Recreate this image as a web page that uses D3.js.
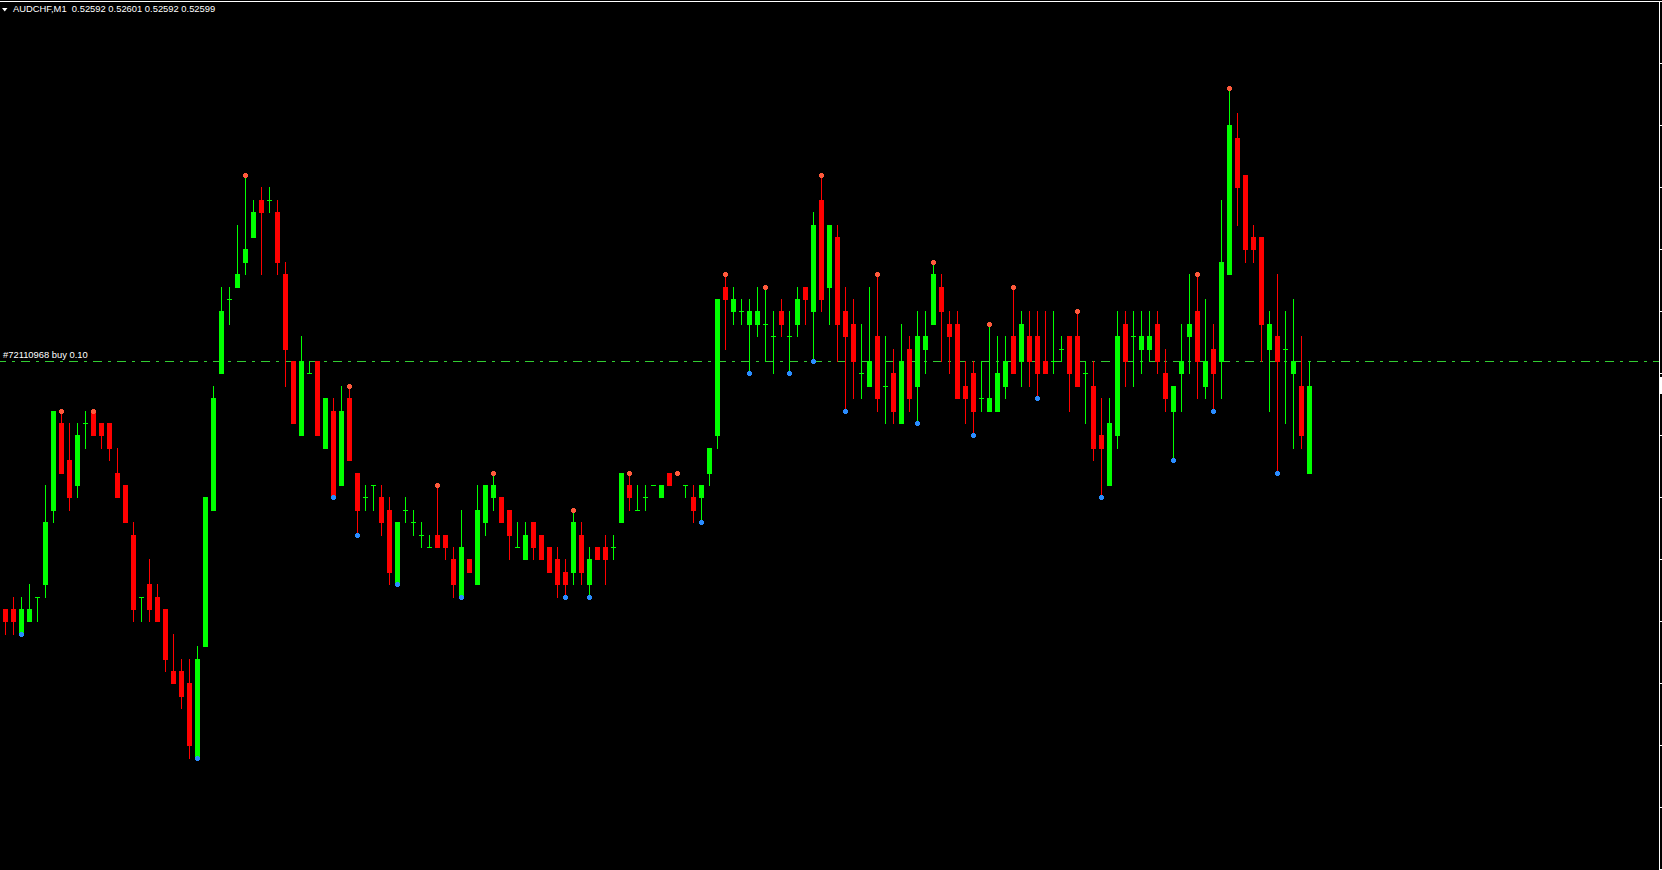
<!DOCTYPE html>
<html>
<head>
<meta charset="utf-8">
<script src="https://cdn.jsdelivr.net/npm/d3@7"></script>
<style>
  html, body { margin: 0; padding: 0; background: #000; overflow: hidden; }
</style>
</head>
<body>
<div id="chart"></div>
<script>
// AUDCHF M1 bars, left to right
const opens = [
  0.52581,0.52581,0.52579,0.52580,0.52582,0.52583,0.52589,0.52596,0.52593,0.52591,
  0.52596,0.52597,0.52596,0.52596,0.52592,0.52591,0.52587,0.52582,0.52583,0.52582,
  0.52581,0.52576,0.52576,0.52575,0.52569,0.52578,0.52589,0.52600,0.52606,0.52607,
  0.52609,0.52611,0.52614,0.52614,0.52613,0.52608,0.52601,0.52595,0.52600,0.52601,
  0.52594,0.52597,0.52591,0.52598,0.52592,0.52590,0.52591,0.52590,0.52589,0.52583,
  0.52589,0.52588,0.52587,0.52586,0.52587,0.52587,0.52585,0.52582,0.52585,0.52583,
  0.52588,0.52590,0.52590,0.52589,0.52586,0.52585,0.52588,0.52587,0.52586,0.52585,
  0.52584,0.52584,0.52587,0.52583,0.52586,0.52586,0.52586,0.52588,0.52591,0.52589,
  0.52590,0.52591,0.52590,0.52592,0.52592,0.52591,0.52590,0.52590,0.52592,0.52595,
  0.52607,0.52605,0.52605,0.52604,0.52604,0.52604,0.52603,0.52605,0.52603,0.52604,
  0.52607,0.52605,0.52614,0.52607,0.52611,0.52605,0.52604,0.52600,0.52599,0.52603,
  0.52599,0.52600,0.52596,0.52602,0.52599,0.52602,0.52604,0.52607,0.52604,0.52604,
  0.52599,0.52600,0.52598,0.52597,0.52597,0.52599,0.52603,0.52601,0.52603,0.52603,
  0.52601,0.52601,0.52602,0.52603,0.52603,0.52600,0.52599,0.52595,0.52591,0.52595,
  0.52604,0.52603,0.52602,0.52602,0.52604,0.52600,0.52597,0.52600,0.52603,0.52605,
  0.52599,0.52602,0.52601,0.52608,0.52619,0.52616,0.52611,0.52611,0.52602,0.52603,
  0.52602,0.52600,0.52599,0.52592
];
const highs = [
  0.52581,0.52582,0.52582,0.52583,0.52582,0.52591,0.52597,0.52597,0.52596,0.52596,
  0.52597,0.52597,0.52596,0.52596,0.52594,0.52591,0.52588,0.52582,0.52585,0.52583,
  0.52581,0.52579,0.52577,0.52577,0.52578,0.52590,0.52599,0.52607,0.52607,0.52612,
  0.52616,0.52614,0.52615,0.52615,0.52614,0.52609,0.52601,0.52603,0.52601,0.52601,
  0.52598,0.52598,0.52599,0.52599,0.52592,0.52591,0.52591,0.52591,0.52590,0.52588,
  0.52590,0.52589,0.52588,0.52587,0.52591,0.52587,0.52586,0.52589,0.52585,0.52591,
  0.52591,0.52592,0.52590,0.52589,0.52588,0.52588,0.52588,0.52587,0.52586,0.52586,
  0.52585,0.52589,0.52588,0.52586,0.52586,0.52587,0.52587,0.52592,0.52592,0.52591,
  0.52591,0.52591,0.52591,0.52592,0.52592,0.52591,0.52591,0.52591,0.52594,0.52606,
  0.52608,0.52607,0.52606,0.52606,0.52607,0.52607,0.52605,0.52606,0.52605,0.52607,
  0.52607,0.52613,0.52616,0.52612,0.52612,0.52607,0.52606,0.52604,0.52607,0.52608,
  0.52603,0.52602,0.52604,0.52603,0.52605,0.52605,0.52609,0.52608,0.52605,0.52605,
  0.52601,0.52601,0.52601,0.52604,0.52603,0.52603,0.52607,0.52605,0.52605,0.52605,
  0.52605,0.52605,0.52603,0.52603,0.52605,0.52601,0.52601,0.52598,0.52598,0.52605,
  0.52605,0.52605,0.52605,0.52605,0.52605,0.52602,0.52599,0.52604,0.52608,0.52608,
  0.52606,0.52604,0.52614,0.52623,0.52621,0.52616,0.52612,0.52611,0.52605,0.52608,
  0.52605,0.52606,0.52603,0.52601
];
const lows = [
  0.52579,0.52579,0.52579,0.52580,0.52580,0.52582,0.52588,0.52592,0.52589,0.52590,
  0.52594,0.52595,0.52594,0.52593,0.52590,0.52588,0.52580,0.52580,0.52580,0.52580,
  0.52576,0.52575,0.52573,0.52569,0.52569,0.52578,0.52589,0.52600,0.52604,0.52607,
  0.52608,0.52611,0.52608,0.52613,0.52608,0.52599,0.52596,0.52595,0.52600,0.52595,
  0.52594,0.52590,0.52591,0.52593,0.52587,0.52589,0.52589,0.52587,0.52583,0.52583,
  0.52588,0.52587,0.52586,0.52586,0.52586,0.52585,0.52582,0.52582,0.52584,0.52583,
  0.52587,0.52589,0.52588,0.52585,0.52586,0.52585,0.52585,0.52585,0.52584,0.52582,
  0.52582,0.52583,0.52583,0.52582,0.52585,0.52583,0.52585,0.52588,0.52589,0.52589,
  0.52589,0.52591,0.52590,0.52591,0.52592,0.52590,0.52588,0.52588,0.52591,0.52594,
  0.52602,0.52604,0.52604,0.52600,0.52603,0.52601,0.52600,0.52603,0.52600,0.52603,
  0.52604,0.52601,0.52605,0.52604,0.52601,0.52597,0.52598,0.52598,0.52599,0.52597,
  0.52596,0.52596,0.52596,0.52597,0.52596,0.52600,0.52604,0.52601,0.52600,0.52598,
  0.52596,0.52595,0.52597,0.52597,0.52597,0.52598,0.52600,0.52599,0.52599,0.52598,
  0.52600,0.52600,0.52601,0.52597,0.52599,0.52596,0.52593,0.52590,0.52591,0.52594,
  0.52599,0.52599,0.52600,0.52601,0.52600,0.52597,0.52593,0.52597,0.52600,0.52598,
  0.52598,0.52597,0.52598,0.52608,0.52612,0.52609,0.52609,0.52601,0.52597,0.52592,
  0.52596,0.52594,0.52594,0.52592
];
const closes = [
  0.52580,0.52580,0.52581,0.52581,0.52582,0.52588,0.52597,0.52592,0.52590,0.52595,
  0.52596,0.52595,0.52595,0.52594,0.52590,0.52588,0.52581,0.52582,0.52581,0.52580,
  0.52577,0.52575,0.52574,0.52570,0.52577,0.52590,0.52598,0.52605,0.52606,0.52608,
  0.52610,0.52613,0.52613,0.52614,0.52609,0.52602,0.52596,0.52601,0.52600,0.52595,
  0.52598,0.52590,0.52597,0.52593,0.52589,0.52590,0.52591,0.52588,0.52584,0.52588,
  0.52589,0.52588,0.52587,0.52586,0.52586,0.52586,0.52583,0.52586,0.52584,0.52589,
  0.52591,0.52591,0.52588,0.52587,0.52586,0.52587,0.52586,0.52585,0.52584,0.52583,
  0.52583,0.52588,0.52584,0.52585,0.52585,0.52585,0.52586,0.52592,0.52590,0.52589,
  0.52590,0.52591,0.52591,0.52591,0.52592,0.52591,0.52589,0.52591,0.52594,0.52606,
  0.52606,0.52606,0.52605,0.52605,0.52605,0.52604,0.52603,0.52604,0.52603,0.52606,
  0.52606,0.52612,0.52606,0.52612,0.52604,0.52603,0.52601,0.52600,0.52601,0.52598,
  0.52599,0.52597,0.52601,0.52598,0.52603,0.52603,0.52608,0.52605,0.52603,0.52598,
  0.52598,0.52597,0.52598,0.52598,0.52600,0.52601,0.52600,0.52604,0.52601,0.52600,
  0.52600,0.52601,0.52602,0.52600,0.52599,0.52600,0.52594,0.52594,0.52596,0.52603,
  0.52601,0.52603,0.52603,0.52603,0.52601,0.52598,0.52599,0.52601,0.52604,0.52601,
  0.52601,0.52600,0.52609,0.52620,0.52615,0.52610,0.52610,0.52604,0.52604,0.52601,
  0.52602,0.52601,0.52595,0.52599
];
// bar numbers (1-based) carrying fractal arrows
const fractalUp = [8, 12, 31, 44, 55, 62, 72, 79, 85, 91, 96, 103, 110, 117, 124, 127, 135, 150, 154];
const fractalDown = [3, 25, 42, 45, 50, 58, 71, 74, 88, 94, 99, 102, 106, 115, 122, 130, 138, 147, 152, 160];

const headerText = "AUDCHF,M1  0.52592 0.52601 0.52592 0.52599";
const orderLabel = "#72110968 buy 0.10";
const orderPrice = 0.52601;
const bidPrice = 0.52599;
const scaleTicks = d3.range(0.52560, 0.526301, 0.00005);

const W = 1662, H = 870;
const bull = "#00ff00", bear = "#ff0000";

const svg = d3.select("#chart").append("svg")
    .attr("width", W).attr("height", H)
    .style("display", "block")
    .style("background", "#000");

const bars = opens.map((o, i) => ({ n: i + 1, o: o, h: highs[i], l: lows[i], c: closes[i] }));

// one bar every 8 px, one point = 12.4 px
const x = d3.scaleLinear().domain([1, 164]).range([5.5, 1309.5]);
const y = d3.scaleLinear().domain([0.52560, 0.52630]).range([869.4, 1.4]);
const py = p => Math.round(y(p));

// order level line (dash-dot)
svg.append("line")
    .attr("x1", 0).attr("x2", 1659)
    .attr("y1", py(orderPrice) + 0.5).attr("y2", py(orderPrice) + 0.5)
    .attr("stroke", "#32cd32")
    .attr("stroke-width", 1)
    .attr("stroke-dasharray", "9,6,3,6")
    .attr("stroke-dashoffset", 3)
    .attr("shape-rendering", "crispEdges");

svg.append("text")
    .attr("x", 3).attr("y", py(orderPrice) - 3)
    .attr("fill", "#ffffff")
    .attr("font-family", "Liberation Sans, Arial, sans-serif")
    .attr("font-size", "9.4px")
    .text(orderLabel);

const colorOf = d => d.c > d.o ? bull : (d.c < d.o ? bear : bull);

const g = svg.append("g").attr("shape-rendering", "crispEdges");

// wicks
g.selectAll("rect.wick")
    .data(bars)
    .enter().append("rect")
    .attr("class", "wick")
    .attr("x", d => x(d.n) - 0.5)
    .attr("width", 1)
    .attr("y", d => py(d.h))
    .attr("height", d => py(d.l) - py(d.h) + 1)
    .attr("fill", colorOf);

// bodies (doji as a flat dash)
g.selectAll("rect.body")
    .data(bars)
    .enter().append("rect")
    .attr("class", "body")
    .attr("x", d => x(d.n) - 2.5)
    .attr("width", 5)
    .attr("y", d => py(Math.max(d.o, d.c)))
    .attr("height", d => py(Math.min(d.o, d.c)) - py(Math.max(d.o, d.c)) + 1)
    .attr("fill", colorOf);

// fractal arrows
const dot = "M-1,-2.5h3v1h1v3h-1v1h-3v-1h-1v-3h1z";
svg.selectAll("path.up")
    .data(fractalUp)
    .enter().append("path")
    .attr("d", dot)
    .attr("transform", n => "translate(" + (x(n) - 0.5) + "," + (py(highs[n - 1]) + 0.5) + ")")
    .attr("fill", "#ff5a3c");

svg.selectAll("path.down")
    .data(fractalDown)
    .enter().append("path")
    .attr("d", dot)
    .attr("transform", n => "translate(" + (x(n) - 0.5) + "," + (py(lows[n - 1]) + 0.5) + ")")
    .attr("fill", "#2a8cff");

// frame: top line, right border, price scale stub
svg.append("rect").attr("x", 0).attr("y", 1).attr("width", 1660).attr("height", 1).attr("fill", "#fff");
svg.append("rect").attr("x", 1659).attr("y", 1).attr("width", 1).attr("height", H).attr("fill", "#fff");
svg.selectAll("rect.tick")
    .data(scaleTicks)
    .enter().append("rect")
    .attr("class", "tick")
    .attr("x", 1660).attr("width", 2)
    .attr("y", p => py(p)).attr("height", 1)
    .attr("fill", "#fff");
svg.append("rect")
    .attr("x", 1660).attr("width", 2)
    .attr("y", py(bidPrice) - 9).attr("height", 17)
    .attr("fill", "#fff");

// header
svg.append("path").attr("d", "M2,8H7.5L4.75,11.5Z").attr("fill", "#fff");
svg.append("text")
    .attr("x", 13).attr("y", 12)
    .attr("fill", "#ffffff")
    .attr("font-family", "Liberation Sans, Arial, sans-serif")
    .attr("font-size", "9.4px")
    .attr("xml:space", "preserve")
    .style("white-space", "pre")
    .text(headerText);
</script>
</body>
</html>
